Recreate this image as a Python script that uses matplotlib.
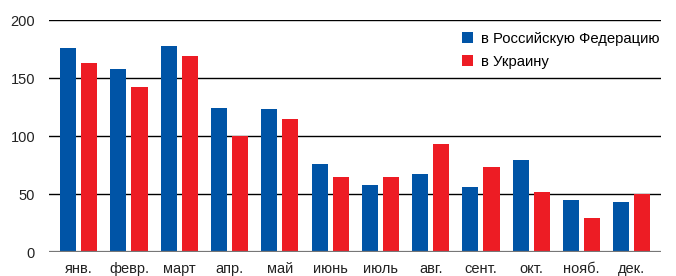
import numpy as np
import matplotlib
matplotlib.use("Agg")
import matplotlib.pyplot as plt

plt.rcParams['font.family'] = ['Liberation Sans', 'DejaVu Sans']

months = ['янв.', 'февр.', 'март', 'апр.', 'май', 'июнь', 'июль', 'авг.', 'сент.', 'окт.', 'нояб.', 'дек.']
russia = [176, 158, 178, 124, 123, 76, 58, 67, 56, 79, 45, 43]
ukraine = [163, 142, 169, 100, 115, 65, 65, 93, 73, 52, 29, 50]
yticks = [0, 50, 100, 150, 200]

blue = '#0054a6'
red = '#ed1c24'

fig = plt.figure(figsize=(6.76, 2.76), dpi=100)
ax = fig.add_axes([49/676, 24/276, 612/676, 232/276])

x = np.arange(len(months))
w = 0.32
ax.bar(x - 0.21, russia, w, color=blue, label='в Российскую Федерацию', zorder=3)
ax.bar(x + 0.21, ukraine, w, color=red, label='в Украину', zorder=3)

for v in yticks[1:]:
    ax.axhline(v, color='black', lw=1, zorder=1)
ax.axhline(0, color='#777777', lw=1.6, zorder=4)

ax.set_xlim(-0.59, 11.58)
ax.set_ylim(0, 200)
ax.set_yticks(yticks)
ax.set_xticks(x)
ax.set_xticklabels(months)
ax.tick_params(length=0, labelsize=10.5, colors='#222222')
ax.tick_params(axis='y', pad=10)
ax.tick_params(axis='x', pad=7)
for s in ax.spines.values():
    s.set_visible(False)

leg = ax.legend(loc='upper right', bbox_to_anchor=(1.008, 0.975), frameon=False,
                fontsize=10.7, handlelength=0.72, handleheight=0.72,
                handletextpad=0.6, labelspacing=0.62, borderaxespad=0)

fig.savefig('out.png', dpi=100)
